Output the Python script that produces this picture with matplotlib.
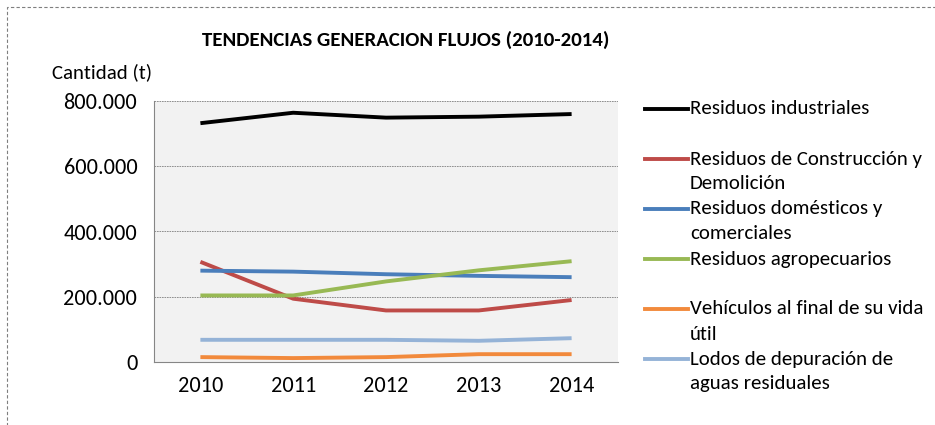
import matplotlib
matplotlib.use('Agg')
import matplotlib.pyplot as plt
from matplotlib.lines import Line2D
from matplotlib.patches import Rectangle
from matplotlib.ticker import FuncFormatter

plt.rcParams['font.family'] = ['Carlito', 'Liberation Sans Narrow', 'Open Sans', 'DejaVu Sans']

years = ['2010', '2011', '2012', '2013', '2014']

industriales = [732000, 764000, 749000, 752000, 760000]
construccion = [307000, 194000, 158000, 158000, 190000]
domesticos = [280000, 277000, 269000, 264000, 260000]
agropecuarios = [204000, 204000, 247000, 281000, 309000]
vehiculos = [15000, 12000, 15000, 24000, 24000]
lodos = [68000, 68000, 68000, 65000, 73000]

labels = [
    'Residuos industriales',
    'Residuos de Construcción y\nDemolición',
    'Residuos domésticos y\ncomerciales',
    'Residuos agropecuarios',
    'Vehículos al final de su vida\nútil',
    'Lodos de depuración de\naguas residuales',
]
series = [industriales, construccion, domesticos, agropecuarios, vehiculos, lodos]
colors = ['#000000', '#BE4B48', '#4A7EBB', '#98B954', '#F28A3C', '#95B3D7']

fig = plt.figure(figsize=(9.35, 4.25), dpi=100)
fig.patch.set_facecolor('white')

# dashed frame around the chart object
fig.add_artist(Rectangle((7 / 935, -0.05), 1.2, 1 - 7 / 425 + 0.05,
                         transform=fig.transFigure, fill=False,
                         edgecolor='#7F7F7F', linestyle=(0, (3, 2)), linewidth=0.8))

ax = fig.add_axes([154 / 935, 1 - 362 / 425, (618 - 154) / 935, (362 - 101) / 425])
ax.set_facecolor('#F2F2F2')

x = list(range(len(years)))
for vals, c in zip(series, colors):
    ax.plot(x, vals, color=c, linewidth=2.8, solid_capstyle='butt')

ax.set_xlim(-0.5, len(years) - 0.5)
ax.set_ylim(0, 800000)
ax.set_xticks(x)
ax.set_xticklabels(years)
ax.set_yticks([0, 200000, 400000, 600000, 800000])
ax.yaxis.set_major_formatter(FuncFormatter(lambda v, p: f'{int(v):,}'.replace(',', '.')))
ax.tick_params(axis='both', length=0, labelsize=16, colors='#000000')
ax.tick_params(axis='y', pad=12)
ax.tick_params(axis='x', pad=10)

ax.grid(axis='y', color='#808080', linestyle=(0, (2, 1)), linewidth=0.6)
ax.set_axisbelow(True)
for s in ['top', 'right']:
    ax.spines[s].set_visible(False)
ax.spines['left'].set_color('#868686')
ax.spines['bottom'].set_color('#868686')

fig.text(406 / 935, 1 - 40 / 425, 'TENDENCIAS GENERACION FLUJOS (2010-2014)',
         ha='center', va='center', fontsize=15, fontweight='bold')
fig.text(52 / 935, 1 - 72 / 425, 'Cantidad (t)', ha='left', va='center', fontsize=15)

# legend drawn beside the plot, one entry every 50 px, 25 px per text line
for i, (lab, c) in enumerate(zip(labels, colors)):
    y_px = 109 + 50 * i
    y = 1 - y_px / 425
    fig.add_artist(Line2D([645 / 935, 688 / 935], [y, y], transform=fig.transFigure,
                          color=c, linewidth=2.8))
    for j, line in enumerate(lab.split('\n')):
        fig.text(690 / 935, 1 - (y_px + 25 * j) / 425, line, ha='left', va='center',
                 fontsize=15)

fig.savefig('out.png', dpi=100)
